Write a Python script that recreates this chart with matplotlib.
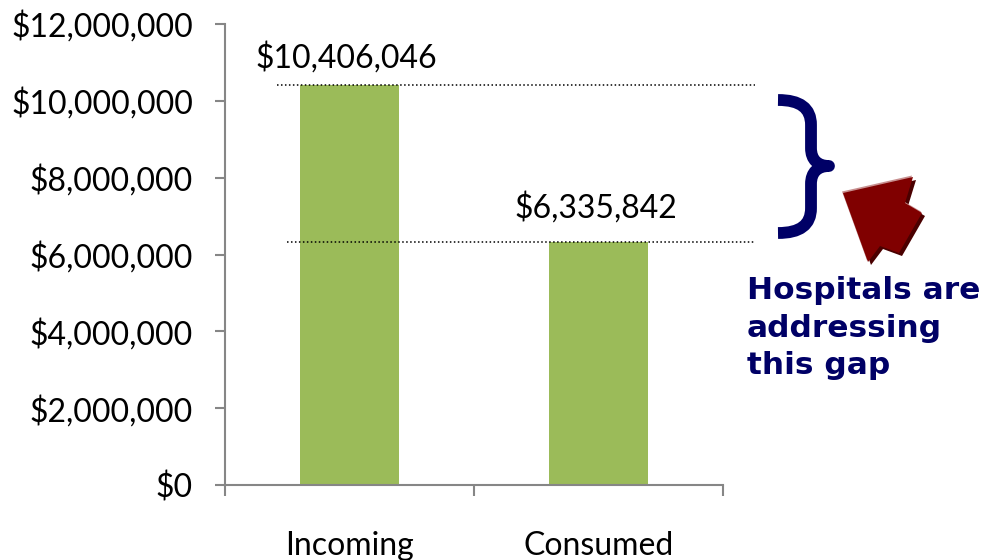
import matplotlib
matplotlib.use("Agg")
import matplotlib.pyplot as plt
import numpy as np
from matplotlib.path import Path
from matplotlib.patches import PathPatch, Polygon
from matplotlib.ticker import FuncFormatter

plt.rcParams['font.family'] = ['Lato', 'DejaVu Sans']

# data
categories = ['Incoming', 'Consumed']
values = [10406046, 6335842]
value_labels = ['$10,406,046', '$6,335,842']
yticks = [0, 2000000, 4000000, 6000000, 8000000, 10000000, 12000000]
note = 'Hospitals are\naddressing\nthis gap'

bar_color = '#9BBB59'
axis_color = '#868686'
navy = '#000066'

fig = plt.figure(figsize=(9.83, 5.6), dpi=100)
W, H = 983, 560
ax = fig.add_axes([225 / W, (H - 485) / H, 498 / W, 461 / H])

x = np.arange(len(categories))
ax.bar(x, values, width=0.4, color=bar_color, zorder=2)

ax.set_xlim(-0.5, len(categories) - 0.5)
ax.set_ylim(0, 12000000)
ax.set_yticks(yticks)
ax.yaxis.set_major_formatter(FuncFormatter(lambda v, p: '${:,.0f}'.format(v)))

# category boundaries as ticks, names at the centres
ax.set_xticks(np.arange(len(categories) + 1) - 0.5)
ax.set_xticklabels([])
ax.set_xticks(x, minor=True)
ax.set_xticklabels(categories, minor=True)
ax.tick_params(axis='x', which='major', length=8, width=1.5, color=axis_color, direction='out')
ax.tick_params(axis='x', which='minor', length=0, pad=33, labelsize=23)
ax.tick_params(axis='y', length=7, width=1.5, color=axis_color, direction='out',
               pad=16, labelsize=23)

for s in ['top', 'right']:
    ax.spines[s].set_visible(False)
for s in ['left', 'bottom']:
    ax.spines[s].set_color(axis_color)
    ax.spines[s].set_linewidth(1.5)

# value labels and dotted level lines
label_offsets = [13, 17.5]
line_starts = [-0.29, -0.25]
for xi, v, lab, off, xs in zip(x, values, value_labels, label_offsets, line_starts):
    ax.annotate(lab, (xi, v), xytext=(-2, off), textcoords='offset points',
                ha='center', va='baseline', fontsize=23, color='black')
    ax.plot([xs, 1.63], [v, v], color='black', lw=1.1, ls=(0, (1, 1.6)),
            clip_on=False, zorder=3)

# overlay in pixel coordinates for the brace, arrow and note
ov = fig.add_axes([0, 0, 1, 1], zorder=5)
ov.set_xlim(0, W)
ov.set_ylim(H, 0)
ov.axis('off')
ov.patch.set_visible(False)

verts = [(778, 100), (800, 100), (811, 108), (811, 125),
         (811, 148),
         (811, 160), (818, 166), (829, 166),
         (818, 166), (811, 172), (811, 184),
         (811, 208),
         (811, 225), (800, 233), (778, 233)]
codes = [Path.MOVETO, Path.CURVE4, Path.CURVE4, Path.CURVE4,
         Path.LINETO,
         Path.CURVE4, Path.CURVE4, Path.CURVE4,
         Path.CURVE4, Path.CURVE4, Path.CURVE4,
         Path.LINETO,
         Path.CURVE4, Path.CURVE4, Path.CURVE4]
ov.add_patch(PathPatch(Path(verts, codes), fill=False, edgecolor=navy,
                       lw=8.5, capstyle='butt', joinstyle='round'))

arrow = np.array([(843, 193), (913, 177), (905, 203), (922, 213),
                  (899, 253), (880, 246), (868, 262)])
ov.add_patch(Polygon(arrow + [3, 3], closed=True, color='#4a0000', lw=0))
ov.add_patch(Polygon(arrow + [-1, -1.5], closed=True, color='#c89090', lw=0))
ov.add_patch(Polygon(arrow, closed=True, color='#800000', lw=0))

ov.text(747, 276, note, ha='left', va='top', fontsize=22.5, fontweight='bold',
        color=navy, family='DejaVu Sans', linespacing=1.37)

fig.savefig('out.png', dpi=100)
